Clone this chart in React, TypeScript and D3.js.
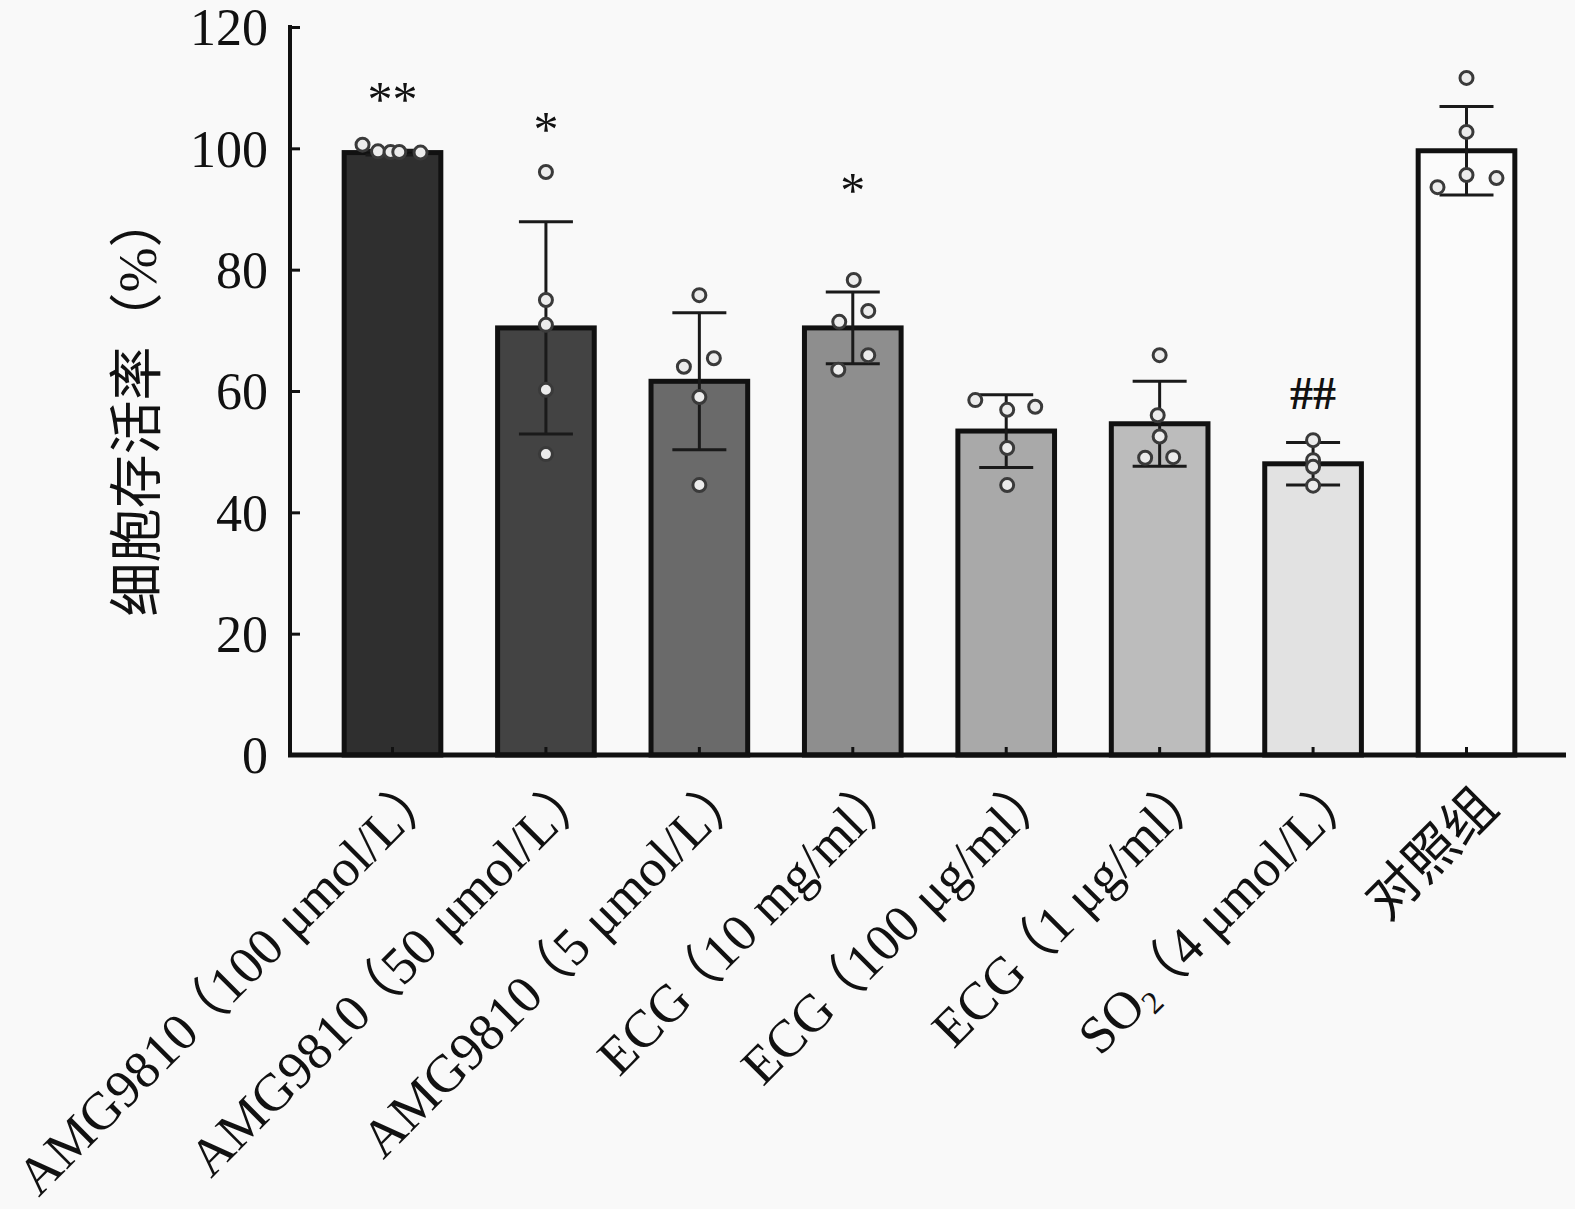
import { useRef, useEffect } from 'react';
import * as d3 from 'd3';

// group labels (SO2 gets a subscript when drawn)
const categories = [
  'AMG9810（100 μmol/L）',
  'AMG9810（50 μmol/L）',
  'AMG9810（5 μmol/L）',
  'ECG（10 mg/ml）',
  'ECG（100 μg/ml）',
  'ECG（1 μg/ml）',
  'SO2（4 μmol/L）',
  '对照组',
];

// mean and SD
const means = [99.3, 70.4, 61.6, 70.4, 53.4, 54.6, 48.0, 99.6];
const sds = [0.4, 17.5, 11.3, 5.9, 6.0, 7.0, 3.5, 7.3];

// individual replicates per group
const points = [
  [100.6, 99.5, 99.4, 99.4, 99.3],
  [96.1, 75.0, 70.9, 60.2, 49.6],
  [75.8, 64.0, 65.4, 59.0, 44.5],
  [78.3, 73.2, 71.4, 65.9, 63.5],
  [58.5, 57.4, 56.9, 50.6, 44.5],
  [65.9, 56.0, 49.0, 49.1, 52.5],
  [51.9, 48.6, 47.5, 44.4],
  [111.6, 102.7, 95.6, 95.1, 93.6],
];
// horizontal jitter of replicates, as a fraction of the bar width
const jitter = [
  [-0.31, -0.15, -0.02, 0.07, 0.29],
  [0, 0, 0, 0, 0],
  [0, -0.16, 0.15, 0, 0],
  [0.01, 0.16, -0.14, 0.16, -0.15],
  [-0.32, 0.3, 0.01, 0.01, 0.01],
  [0, -0.02, -0.15, 0.14, 0],
  [0, 0, 0, 0],
  [0, 0, 0, 0.31, -0.3],
];

const fills = ['#2f2f2f', '#434343', '#6a6a6a', '#8e8e8e', '#a9a9a9', '#bcbcbc', '#e2e2e2', '#fbfbfb'];

// significance marks and the value they sit at
const sigLabels = ['**', '*', '', '*', '', '', '##', ''];
const sigValues = [109.3, 104.3, 0, 94.3, 0, 0, 59.8, 0];

const yTicks = [0, 20, 40, 60, 80, 100, 120];

const W = 1575;
const H = 1209;

export default function App() {
  const svgRef = useRef<SVGSVGElement>(null);

  useEffect(() => {
    if (!svgRef.current) return;
    const svg = d3.select(svgRef.current);
    svg.selectAll('*').remove();

    const serif = "'Liberation Serif', 'Times New Roman', 'Noto Sans CJK SC', serif";
    const x0 = 290;
    const x1 = 1566;

    const x = d3
      .scaleBand<string>()
      .domain(categories)
      .range([292, 1567])
      .paddingInner(0.37)
      .paddingOuter(0.34);
    const y = d3.scaleLinear().domain([0, 120]).range([755, 27]);
    const bw = x.bandwidth();
    const cx = (i: number) => x(categories[i])! + bw / 2;

    svg.append('rect').attr('width', W).attr('height', H).attr('fill', '#f9f9f9');

    // Bars
    svg
      .selectAll('.bar')
      .data(means)
      .enter()
      .append('rect')
      .attr('x', (_, i) => x(categories[i])!)
      .attr('y', (d) => y(d))
      .attr('width', bw)
      .attr('height', (d) => y(0) - y(d))
      .attr('fill', (_, i) => fills[i])
      .attr('stroke', '#111')
      .attr('stroke-width', 5);

    // Error bars
    const eb = svg.append('g').attr('stroke', '#1a1a1a').attr('stroke-width', 3);
    means.forEach((m, i) => {
      const c = cx(i);
      eb.append('line').attr('x1', c).attr('x2', c).attr('y1', y(m - sds[i])).attr('y2', y(m + sds[i]));
      [m - sds[i], m + sds[i]].forEach((v) => {
        eb.append('line').attr('x1', c - 27).attr('x2', c + 27).attr('y1', y(v)).attr('y2', y(v));
      });
    });

    // Replicate points
    points.forEach((arr, i) => {
      svg
        .append('g')
        .selectAll('circle')
        .data(arr)
        .enter()
        .append('circle')
        .attr('cx', (_, j) => cx(i) + jitter[i][j] * bw)
        .attr('cy', (d) => y(d))
        .attr('r', 6.5)
        .attr('fill', '#ececec')
        .attr('stroke', '#3a3a3a')
        .attr('stroke-width', 3);
    });

    // Significance marks
    sigLabels.forEach((s, i) => {
      if (!s) return;
      const star = s.includes('*');
      svg
        .append('text')
        .attr('x', cx(i))
        .attr('y', y(sigValues[i]) + (star ? 24 : 17))
        .attr('text-anchor', 'middle')
        .attr('font-family', serif)
        .attr('font-size', star ? 50 : 46)
        .attr('font-weight', star ? 'normal' : 'bold')
        .attr('fill', '#111')
        .text(s);
    });

    // Y axis
    const yAxis = d3
      .axisLeft(y)
      .tickValues(yTicks)
      .tickSizeInner(-10)
      .tickSizeOuter(0)
      .tickPadding(22);
    const gy = svg.append('g').attr('transform', `translate(${x0},0)`).call(yAxis);
    gy.select('.domain').remove();
    gy.selectAll('line').attr('stroke', '#111').attr('stroke-width', 3);
    gy.selectAll('text')
      .attr('font-family', serif)
      .attr('font-size', 52)
      .attr('fill', '#111')
      .attr('dy', '0.34em');
    svg
      .append('line')
      .attr('x1', x0)
      .attr('x2', x0)
      .attr('y1', y(120) - 2)
      .attr('y2', y(0) + 2)
      .attr('stroke', '#111')
      .attr('stroke-width', 4);

    // X axis
    svg
      .append('line')
      .attr('x1', x0 - 2)
      .attr('x2', x1)
      .attr('y1', y(0))
      .attr('y2', y(0))
      .attr('stroke', '#111')
      .attr('stroke-width', 5);
    categories.forEach((_, i) => {
      svg
        .append('line')
        .attr('x1', cx(i))
        .attr('x2', cx(i))
        .attr('y1', y(0))
        .attr('y2', y(0) - 8)
        .attr('stroke', '#111')
        .attr('stroke-width', 3);
    });

    // X tick labels, rotated; full-width parens carry blank space, so tighten them
    const fs = 53;
    categories.forEach((c, i) => {
      const px = cx(i) + 34;
      const py = 810;
      const k = c.indexOf('（');
      const t = svg
        .append('text')
        .attr('transform', `translate(${px},${py}) rotate(-45)`)
        .attr('x', k >= 0 ? fs * 0.5 : 0)
        .attr('text-anchor', 'end')
        .attr('font-family', serif)
        .attr('font-size', fs)
        .attr('fill', '#111');
      if (k < 0) {
        t.text(c);
        return;
      }
      let head = c.slice(0, k);
      if (head === 'SO2') {
        t.append('tspan').text('SO');
        t.append('tspan').attr('font-size', 32).attr('dy', 9).attr('fill', '#111').text('2');
        head = '';
      } else {
        t.append('tspan').text(head);
      }
      t.append('tspan')
        .attr('dy', head ? 0 : -9)
        .attr('dx', -fs * 0.22)
        .text(c.slice(k));
    });

    // Y axis title
    svg
      .append('text')
      .attr('transform', `translate(156,405) rotate(-90)`)
      .attr('text-anchor', 'middle')
      .attr('font-family', serif)
      .attr('font-size', 54)
      .attr('fill', '#111')
      .text('细胞存活率（%）');
  }, []);

  return (
    <svg
      ref={svgRef}
      width={W}
      height={H}
      style={{ position: 'absolute', left: 0, top: 0, display: 'block' }}
    />
  );
}
